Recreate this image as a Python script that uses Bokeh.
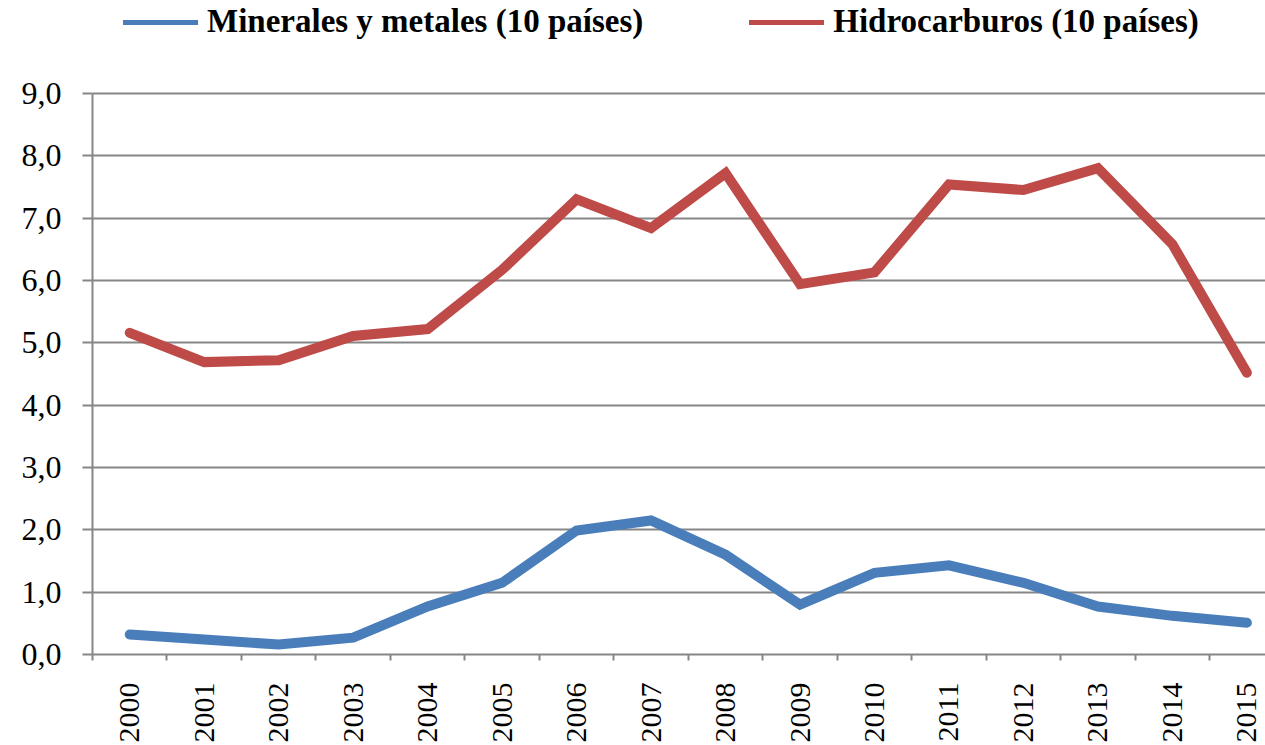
from bokeh.plotting import figure
from bokeh.models import Range1d, FixedTicker, CustomJSTickFormatter, Legend, LegendItem
from bokeh.embed import file_html
from bokeh.resources import INLINE

years = ["2000", "2001", "2002", "2003", "2004", "2005", "2006", "2007",
         "2008", "2009", "2010", "2011", "2012", "2013", "2014", "2015"]
minerales = [0.32, 0.24, 0.16, 0.27, 0.77, 1.15, 1.99, 2.15,
             1.60, 0.80, 1.31, 1.43, 1.15, 0.77, 0.62, 0.51]
hidrocarburos = [5.16, 4.69, 4.72, 5.11, 5.22, 6.17, 7.30, 6.84,
                 7.72, 5.94, 6.13, 7.54, 7.45, 7.80, 6.58, 4.52]
series_names = ["Minerales y metales (10 países)", "Hidrocarburos (10 países)"]
y_ticks = [0, 1, 2, 3, 4, 5, 6, 7, 8, 9]

BLUE = "#4A7EBB"
RED = "#BE4B48"
GRID = "#868686"
FONT = "Liberation Serif"

xs = list(range(len(years)))

# frame spans the whole height above the x axis; the value axis itself stops at 9
p = figure(width=1265, height=745, output_backend="svg", toolbar_location=None,
           x_range=Range1d(-0.5, 15.25), y_range=Range1d(0, 10.49),
           min_border_left=92, min_border_right=0, min_border_top=0, min_border_bottom=0)
p.outline_line_color = None
p.background_fill_color = "white"
p.border_fill_color = "white"

# legend proxies (thinner lines, hidden underneath the real series)
l1 = p.line(xs, minerales, line_color=BLUE, line_width=5, line_cap="round")
l2 = p.line(xs, hidrocarburos, line_color=RED, line_width=5, line_cap="round")

r1 = p.line(xs, minerales, line_color=BLUE, line_width=10, line_cap="round", line_join="miter")
r2 = p.line(xs, hidrocarburos, line_color=RED, line_width=10, line_cap="round", line_join="miter")

# axes
p.xaxis.ticker = FixedTicker(ticks=xs, minor_ticks=[i - 0.5 for i in range(len(years) + 1)])
p.xaxis.major_label_overrides = {i: y for i, y in enumerate(years)}
p.xaxis.major_label_orientation = 1.5707963
p.xaxis.major_tick_line_color = None
p.xaxis.major_tick_out = 0
p.xaxis.major_tick_in = 0
p.xaxis.minor_tick_line_color = GRID
p.xaxis.minor_tick_line_width = 2
p.xaxis.minor_tick_out = 6
p.xaxis.minor_tick_in = 0
p.xaxis.major_label_standoff = 22
p.xaxis.major_label_text_font = FONT
p.xaxis.major_label_text_font_size = "30px"
p.xaxis.major_label_text_color = "black"
p.xaxis.axis_line_color = GRID
p.xaxis.axis_line_width = 2

p.yaxis.ticker = FixedTicker(ticks=y_ticks, minor_ticks=[])
p.yaxis.bounds = (0, 9)
p.yaxis.formatter = CustomJSTickFormatter(code="return tick.toFixed(1).replace('.', ',');")
p.yaxis.major_tick_line_color = GRID
p.yaxis.major_tick_line_width = 2
p.yaxis.major_tick_out = 10
p.yaxis.major_tick_in = 0
p.yaxis.minor_tick_line_color = None
p.yaxis.major_label_standoff = 21
p.yaxis.major_label_text_font = FONT
p.yaxis.major_label_text_font_size = "32px"
p.yaxis.major_label_text_color = "black"
p.yaxis.axis_line_color = GRID
p.yaxis.axis_line_width = 2

p.xgrid.grid_line_color = None
p.ygrid.grid_line_color = GRID
p.ygrid.grid_line_width = 2

legend = Legend(items=[LegendItem(label=series_names[0], renderers=[l1]),
                       LegendItem(label=series_names[1], renderers=[l2])],
                orientation="horizontal", location=(31, 614),
                glyph_width=75, glyph_height=36, label_standoff=9, spacing=106,
                padding=0, margin=0, border_line_color=None, background_fill_alpha=0,
                label_text_font=FONT, label_text_font_style="bold",
                label_text_font_size="33px", label_text_color="black",
                label_height=36)
p.add_layout(legend, "center")

open("out.html", "w").write(file_html(p, INLINE))
